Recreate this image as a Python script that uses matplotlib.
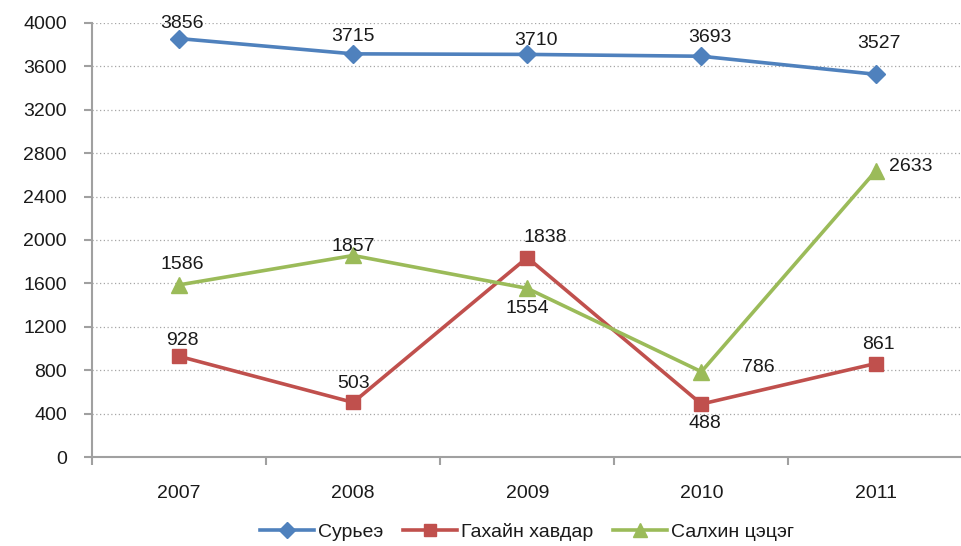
import matplotlib
matplotlib.use("Agg")
import matplotlib.pyplot as plt
from matplotlib.ticker import FixedLocator, MultipleLocator

years = ["2007", "2008", "2009", "2010", "2011"]
s_names = ["Сурьеэ", "Гахайн хавдар", "Салхин цэцэг"]
s1 = [3856, 3715, 3710, 3693, 3527]
s2 = [928, 503, 1838, 488, 861]
s3 = [1586, 1857, 1554, 786, 2633]

# label offsets in pixels (dx, dy)
off1 = [(3, 15), (0, 17), (9, 14), (9, 19), (3, 31)]
off2 = [(3, 16), (0, 19), (18, 20), (3, -19), (3, 19)]
off3 = [(3, 20), (0, 9), (0, -20), (57, 4), (35, 5)]

plt.rcParams['font.family'] = ['Liberation Sans', 'DejaVu Sans']
fs = 14
fig = plt.figure(figsize=(9.62, 5.46), dpi=100)
ax = fig.add_axes([0.0956, 0.163, 0.905, 0.795])

x = list(range(len(years)))
styles = [("#4F81BD", "D", 9), ("#C0504D", "s", 10), ("#9BBB59", "^", 11)]
series = [s1, s2, s3]
offs = [off1, off2, off3]
for vals, (c, m, ms), name, off in zip(series, styles, s_names, offs):
    ax.plot(x, vals, color=c, marker=m, markersize=ms, lw=2.6, label=name, zorder=3)
    for xi, v, (dx, dy) in zip(x, vals, off):
        ax.annotate(str(v), (xi, v), xytext=(dx, dy), textcoords='offset pixels',
                    ha='center', va='center', fontsize=fs, color='#1a1a1a', zorder=4)

ax.set_xlim(-0.5, 4.5)
ax.set_ylim(0, 4000)
ax.yaxis.set_major_locator(MultipleLocator(400))
ax.set_xticks(x)
ax.set_xticklabels(years)
ax.xaxis.set_minor_locator(FixedLocator([-0.5, 0.5, 1.5, 2.5, 3.5, 4.5]))
ax.tick_params(axis='x', which='major', length=0, pad=20, labelsize=fs, labelcolor='#1a1a1a')
ax.tick_params(axis='x', which='minor', length=6, width=1.5, color='#A0A0A0', direction='out')
ax.tick_params(axis='y', length=6, width=1.5, color='#A0A0A0', direction='out', pad=12,
               labelsize=fs, labelcolor='#1a1a1a')

for yv in range(400, 4001, 400):
    ax.axhline(yv, color='#A6A6A6', lw=0.9, ls=(0, (1, 2)), zorder=1)

for sp in ['top', 'right']:
    ax.spines[sp].set_visible(False)
for sp in ['left', 'bottom']:
    ax.spines[sp].set_color('#A0A0A0')
    ax.spines[sp].set_linewidth(1.5)

fig.legend(loc='center', bbox_to_anchor=(0.548, 0.026), ncol=3, frameon=False,
           fontsize=fs, handlelength=2.8, columnspacing=1.0, handletextpad=0.2,
           labelcolor='#1a1a1a', markerscale=0.9)

fig.savefig("out.png", dpi=100)
